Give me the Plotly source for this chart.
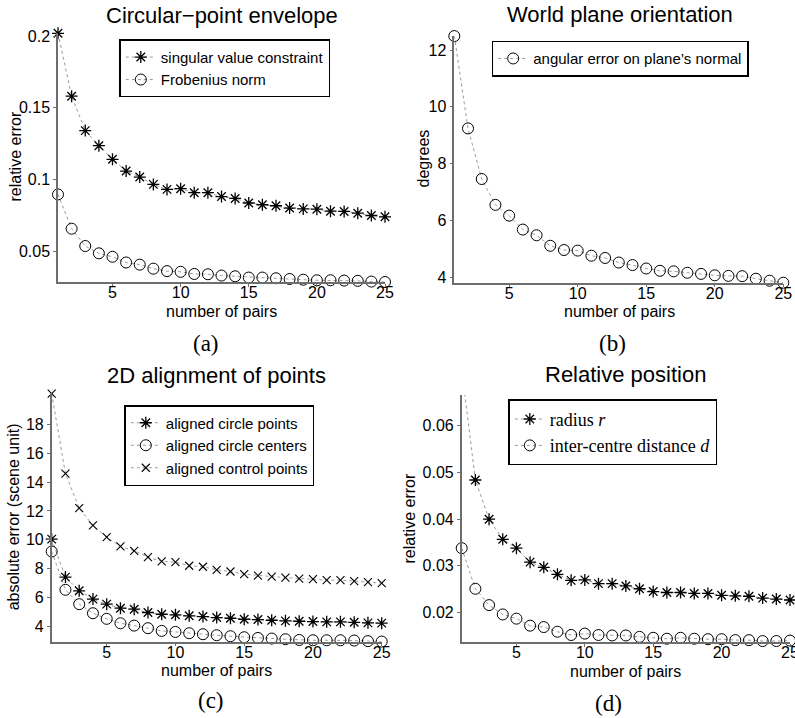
import plotly.graph_objects as go

W, H = 795, 718

pairs = list(range(1, 26))
xtick_vals = [5, 10, 15, 20, 25]
xtick_text = ["5", "10", "15", "20", "25"]

# (a) Circular-point envelope
a_svc = [0.2019, 0.158, 0.134, 0.1235, 0.114, 0.1058, 0.1016, 0.0965, 0.093, 0.0935,
         0.0907, 0.0907, 0.088, 0.0867, 0.0835, 0.0823, 0.0816, 0.080, 0.0794, 0.0792,
         0.0778, 0.0776, 0.0764, 0.0748, 0.0739]
a_frob = [0.0895, 0.0656, 0.0535, 0.0484, 0.046, 0.042, 0.0405, 0.0377, 0.036, 0.0355,
          0.034, 0.0338, 0.0329, 0.0324, 0.0315, 0.0315, 0.031, 0.0305, 0.0300, 0.0296,
          0.0296, 0.0294, 0.0292, 0.0287, 0.0284]
a_yticks = [0.05, 0.1, 0.15, 0.2]
a_yticktext = ["0.05", "0.1", "0.15", "0.2"]

# (b) World plane orientation
b_ang = [12.49, 9.24, 7.46, 6.55, 6.17, 5.68, 5.48, 5.11, 4.96, 4.94, 4.76, 4.68, 4.52,
         4.43, 4.31, 4.23, 4.21, 4.16, 4.12, 4.07, 4.05, 4.04, 3.95, 3.88, 3.81]
b_yticks = [4, 6, 8, 10, 12]
b_yticktext = ["4", "6", "8", "10", "12"]

# (c) 2D alignment of points
c_pts = [10.04, 7.40, 6.45, 5.87, 5.52, 5.24, 5.17, 4.94, 4.82, 4.78, 4.71, 4.66, 4.59,
         4.54, 4.47, 4.45, 4.40, 4.36, 4.33, 4.31, 4.29, 4.29, 4.26, 4.22, 4.20]
c_ctr = [9.18, 6.52, 5.52, 4.89, 4.50, 4.19, 4.03, 3.85, 3.66, 3.59, 3.50, 3.43, 3.36,
         3.29, 3.22, 3.17, 3.13, 3.08, 3.03, 3.01, 3.01, 3.01, 2.99, 2.95, 2.92]
c_ctl = [20.15, 14.59, 12.20, 10.99, 10.18, 9.53, 9.23, 8.79, 8.49, 8.44, 8.19, 8.12, 7.91,
         7.79, 7.61, 7.51, 7.44, 7.37, 7.30, 7.26, 7.19, 7.19, 7.12, 7.05, 6.98]
c_yticks = [4, 6, 8, 10, 12, 14, 16, 18]
c_yticktext = ["4", "6", "8", "10", "12", "14", "16", "18"]

# (d) Relative position
d_r = [0.072, 0.0484, 0.040, 0.0357, 0.0338, 0.0308, 0.0297, 0.0282, 0.0269, 0.0270,
       0.0262, 0.0262, 0.0257, 0.0251, 0.0245, 0.0243, 0.0243, 0.0241, 0.0241, 0.0237,
       0.0236, 0.0235, 0.0231, 0.0229, 0.0227]
d_d = [0.0338, 0.0251, 0.0216, 0.0196, 0.0187, 0.0172, 0.0169, 0.0159, 0.0152, 0.0155,
       0.0152, 0.0151, 0.0151, 0.0148, 0.0146, 0.0144, 0.0146, 0.0144, 0.0143, 0.0143,
       0.0141, 0.0141, 0.0139, 0.0139, 0.0140]
d_yticks = [0.02, 0.03, 0.04, 0.05, 0.06]
d_yticktext = ["0.02", "0.03", "0.04", "0.05", "0.06"]


def px(x):
    return x / W


def py(y):
    return 1 - y / H


SANS = "Liberation Sans, Arial, Helvetica, sans-serif"
SERIF = "Liberation Serif, Times New Roman, serif"
AXC = "#6e6e6e"
LINEC = "#9a9a9a"

panels = [
    dict(xd=(58, 385), yd=(33, 282), yr=(0.0284, 0.2021), yt=a_yticks, ytt=a_yticktext),
    dict(xd=(454.3, 783.3), yd=(35.8, 282.7), yr=(3.81, 12.5), yt=b_yticks, ytt=b_yticktext),
    dict(xd=(51.7, 381.7), yd=(393, 641.7), yr=(2.91, 20.2), yt=c_yticks, ytt=c_yticktext),
    dict(xd=(461.7, 790), yd=(395, 642), yr=(0.0137, 0.0666), yt=d_yticks, ytt=d_yticktext),
]

fig = go.Figure()

MK = {
    "star": dict(symbol="asterisk-open", size=10, color="black", line=dict(color="black", width=1.3)),
    "circle": dict(symbol="circle-open", size=11, color="black", line=dict(color="black", width=1)),
    "x": dict(symbol="x-thin-open", size=8, color="black", line=dict(color="black", width=1.1)),
}


def add(series, name, mk, idx, legend, clip_top=None):
    marker = dict(MK[mk])
    if clip_top is not None:
        marker["opacity"] = [1 if v <= clip_top else 0 for v in series]
    fig.add_trace(go.Scatter(
        x=pairs, y=series, name=name, mode="lines+markers",
        line=dict(color=LINEC, width=1, dash="dot"),
        marker=marker, cliponaxis=False,
        xaxis="x" if idx == 1 else f"x{idx}", yaxis="y" if idx == 1 else f"y{idx}",
        legend=legend,
    ))


add(a_svc, "singular value constraint", "star", 1, "legend")
add(a_frob, "Frobenius norm", "circle", 1, "legend")
add(b_ang, "angular error on plane\u2019s normal", "circle", 2, "legend2")
add(c_pts, "aligned circle points", "star", 3, "legend3")
add(c_ctr, "aligned circle centers", "circle", 3, "legend3")
add(c_ctl, "aligned control points", "x", 3, "legend3")
add(d_r, "radius <i>r</i>", "star", 4, "legend4", clip_top=panels[3]["yr"][1])
add(d_d, "inter-centre distance <i>d</i>", "circle", 4, "legend4")

layout = dict(
    width=W, height=H, margin=dict(l=0, r=0, t=0, b=0),
    paper_bgcolor="white", plot_bgcolor="white",
    font=dict(family=SANS, color="black", size=16),
    showlegend=True,
)

for i, p in enumerate(panels, start=1):
    xk = "xaxis" if i == 1 else f"xaxis{i}"
    yk = "yaxis" if i == 1 else f"yaxis{i}"
    ya = "y" if i == 1 else f"y{i}"
    xa = "x" if i == 1 else f"x{i}"
    layout[xk] = dict(
        domain=[px(p["xd"][0]), px(p["xd"][1])], anchor=ya, range=[1, 25],
        tickvals=xtick_vals, ticktext=xtick_text, ticks="outside", ticklen=3,
        tickcolor=AXC, showline=True, linecolor=AXC, linewidth=1.5,
        showgrid=False, zeroline=False, tickfont=dict(size=16, family=SANS),
        automargin=False, ticklabelstandoff=-8, ticklabeloverflow="allow",
    )
    layout[yk] = dict(
        domain=[py(p["yd"][1]), py(p["yd"][0])], anchor=xa, range=list(p["yr"]),
        tickvals=p["yt"], ticktext=p["ytt"], ticks="outside", ticklen=3,
        tickcolor=AXC, showline=True, linecolor=AXC, linewidth=1.5,
        showgrid=False, zeroline=False, tickfont=dict(size=16, family=SANS),
        automargin=False,
    )

leg_common = dict(
    xanchor="left", yanchor="top", bgcolor="white", bordercolor="black",
    borderwidth=1.5, font=dict(family=SANS, size=15, color="black"),
    tracegroupgap=0, itemwidth=30, traceorder="normal",
)
layout["legend"] = dict(leg_common, x=px(119.3), y=py(39.3))
layout["legend2"] = dict(leg_common, x=px(491.7), y=py(40.7))
layout["legend3"] = dict(leg_common, x=px(124.3), y=py(405))
layout["legend4"] = dict(leg_common, x=px(508.3), y=py(399.3),
                         font=dict(family=SERIF, size=18, color="black"))

titles = [
    ("Circular\u2212point envelope", 221.5, 15),
    ("World plane orientation", 620, 14.5),
    ("2D alignment of points", 216.7, 375),
    ("Relative position", 625.8, 374),
]
xlabels = [(221, 311.5), (619, 311.5), (216.7, 670), (625.8, 671.5)]
ylabels = [("relative error", 14.5, 157), ("degrees", 422.5, 159),
           ("absolute error (scene unit)", 13.3, 517), ("relative error", 409, 518.5)]
captions = [("(a)", 205.5, 343), ("(b)", 612, 343), ("(c)", 211, 700), ("(d)", 608, 703.5)]

ann = []
for t, x, y in titles:
    ann.append(dict(text=t, x=px(x), y=py(y), xref="paper", yref="paper", showarrow=False,
                    xanchor="center", yanchor="middle", font=dict(family=SANS, size=22)))
for x, y in xlabels:
    ann.append(dict(text="number of pairs", x=px(x), y=py(y), xref="paper", yref="paper",
                    showarrow=False, xanchor="center", yanchor="middle",
                    font=dict(family=SANS, size=16)))
for t, x, y in ylabels:
    ann.append(dict(text=t, x=px(x), y=py(y), xref="paper", yref="paper", showarrow=False,
                    xanchor="center", yanchor="middle", textangle=-90,
                    font=dict(family=SANS, size=16)))
for t, x, y in captions:
    ann.append(dict(text=t, x=px(x), y=py(y), xref="paper", yref="paper", showarrow=False,
                    xanchor="center", yanchor="middle", font=dict(family=SERIF, size=23)))
layout["annotations"] = ann

fig.update_layout(**layout)
fig.write_html(
    "out.html",
    config={"displayModeBar": False},
    post_script="document.body.style.margin='0';document.body.style.padding='0';",
)
